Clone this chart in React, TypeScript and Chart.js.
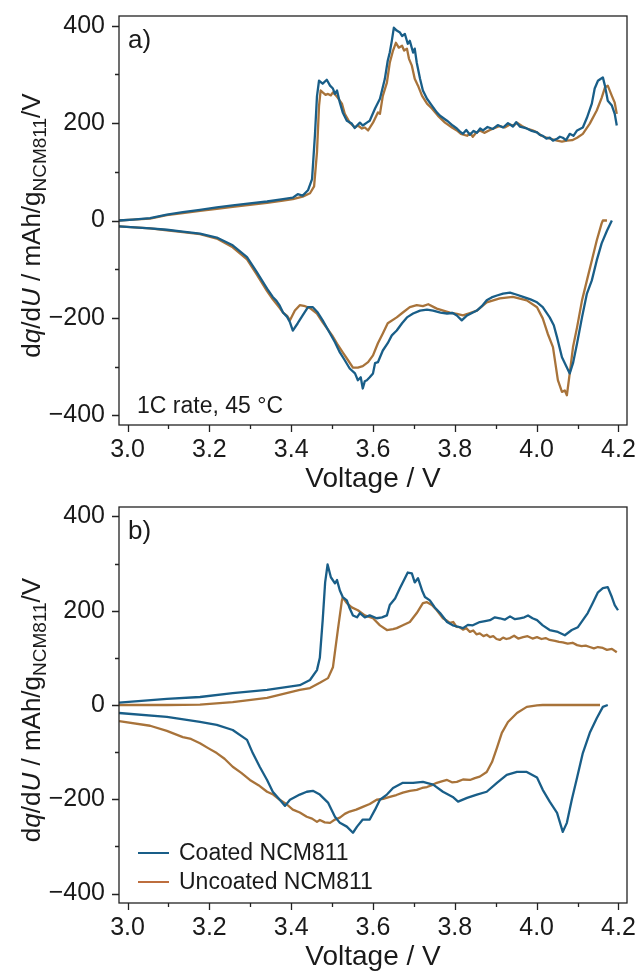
import React, { useEffect, useRef } from "react";
import { Chart, registerables } from "chart.js";
Chart.register(...registerables);

// ---- data: [voltage (V), dq/dU (mAh/g/V)] ----
const aCoatedCharge = [[2.979,0],[3.013,2],[3.055,5],[3.096,12],[3.135,17],[3.177,22],[3.218,27],[3.257,31],[3.299,35],[3.341,39],[3.380,44],[3.404,47],[3.416,54],[3.428,51],[3.441,62],[3.451,85],[3.458,175],[3.463,255],[3.468,287],[3.477,281],[3.487,289],[3.495,277],[3.502,271],[3.507,260],[3.512,267],[3.519,242],[3.526,222],[3.536,205],[3.548,199],[3.555,190],[3.561,195],[3.568,201],[3.575,195],[3.585,201],[3.592,205],[3.605,230],[3.617,250],[3.629,291],[3.636,328],[3.641,345],[3.646,369],[3.651,396],[3.658,390],[3.666,386],[3.671,379],[3.678,383],[3.685,363],[3.690,369],[3.698,345],[3.702,353],[3.707,324],[3.715,291],[3.722,267],[3.732,250],[3.744,236],[3.756,222],[3.764,215],[3.781,205],[3.795,195],[3.805,189],[3.812,183],[3.820,178],[3.828,186],[3.837,176],[3.846,184],[3.854,180],[3.862,189],[3.869,185],[3.880,192],[3.893,188],[3.905,196],[3.918,191],[3.930,200],[3.942,193],[3.950,202],[3.959,193],[3.976,189],[3.988,184],[4.001,181],[4.008,176],[4.015,174],[4.024,168],[4.032,170],[4.040,164],[4.050,168],[4.057,172],[4.064,170],[4.072,165],[4.081,178],[4.090,174],[4.099,185],[4.113,191],[4.123,211],[4.135,240],[4.142,271],[4.150,287],[4.157,291],[4.162,294],[4.167,277],[4.174,246],[4.184,236],[4.191,219],[4.196,195]];
const aUncoatedCharge = [[2.979,0],[3.013,2],[3.055,4],[3.096,11],[3.135,15],[3.177,20],[3.218,24],[3.257,28],[3.299,32],[3.341,36],[3.380,41],[3.404,44],[3.428,49],[3.446,56],[3.456,70],[3.463,140],[3.468,235],[3.472,267],[3.477,263],[3.484,258],[3.490,260],[3.497,257],[3.502,263],[3.508,258],[3.514,252],[3.524,240],[3.531,219],[3.543,201],[3.556,191],[3.563,195],[3.573,189],[3.580,191],[3.588,185],[3.600,201],[3.612,222],[3.617,219],[3.624,256],[3.634,283],[3.641,324],[3.649,349],[3.656,365],[3.663,355],[3.671,359],[3.676,349],[3.683,353],[3.688,332],[3.695,318],[3.702,291],[3.710,277],[3.720,256],[3.732,240],[3.744,230],[3.759,215],[3.776,201],[3.793,191],[3.805,185],[3.815,178],[3.830,174],[3.838,179],[3.844,172],[3.852,180],[3.861,185],[3.872,180],[3.886,186],[3.898,190],[3.910,194],[3.922,191],[3.935,197],[3.944,195],[3.952,201],[3.964,194],[3.976,189],[3.990,185],[4.001,181],[4.012,174],[4.025,170],[4.037,167],[4.050,164],[4.062,162],[4.074,164],[4.087,165],[4.099,170],[4.113,178],[4.130,199],[4.147,226],[4.159,252],[4.167,273],[4.174,277],[4.184,256],[4.191,242],[4.196,219]];
const aCoatedDischarge = [[2.979,-12],[3.055,-16],[3.096,-19],[3.135,-23],[3.177,-27],[3.218,-35],[3.257,-51],[3.292,-75],[3.316,-106],[3.341,-140],[3.355,-157],[3.364,-165],[3.372,-175],[3.380,-189],[3.390,-198],[3.397,-209],[3.404,-226],[3.416,-211],[3.428,-195],[3.441,-178],[3.453,-178],[3.465,-189],[3.477,-205],[3.495,-232],[3.507,-250],[3.519,-271],[3.531,-287],[3.543,-304],[3.556,-314],[3.563,-328],[3.570,-322],[3.575,-345],[3.580,-330],[3.585,-328],[3.592,-322],[3.600,-314],[3.605,-293],[3.612,-291],[3.624,-267],[3.636,-252],[3.646,-236],[3.658,-226],[3.671,-211],[3.683,-199],[3.698,-191],[3.715,-185],[3.732,-183],[3.747,-185],[3.765,-189],[3.781,-191],[3.795,-190],[3.805,-195],[3.817,-205],[3.830,-195],[3.854,-185],[3.866,-176],[3.878,-164],[3.890,-158],[3.903,-154],[3.918,-150],[3.935,-148],[3.950,-152],[3.967,-157],[3.985,-162],[4.001,-168],[4.015,-178],[4.032,-199],[4.042,-215],[4.050,-240],[4.062,-281],[4.074,-302],[4.081,-314],[4.089,-293],[4.099,-252],[4.111,-199],[4.123,-150],[4.135,-123],[4.147,-82],[4.159,-47],[4.172,-21],[4.184,0]];
const aUncoatedDischarge = [[2.979,-12],[3.055,-16],[3.096,-20],[3.135,-24],[3.177,-28],[3.218,-37],[3.257,-55],[3.292,-80],[3.316,-111],[3.341,-145],[3.355,-162],[3.372,-180],[3.380,-189],[3.390,-196],[3.397,-205],[3.409,-185],[3.421,-174],[3.434,-176],[3.446,-180],[3.463,-191],[3.477,-209],[3.500,-236],[3.512,-253],[3.526,-271],[3.539,-287],[3.551,-302],[3.563,-302],[3.575,-299],[3.588,-291],[3.600,-277],[3.612,-252],[3.624,-232],[3.636,-211],[3.658,-199],[3.673,-189],[3.690,-178],[3.707,-174],[3.722,-176],[3.735,-172],[3.756,-181],[3.788,-189],[3.805,-192],[3.820,-195],[3.837,-190],[3.854,-185],[3.878,-168],[3.910,-160],[3.942,-157],[3.976,-164],[4.001,-178],[4.015,-201],[4.027,-232],[4.040,-260],[4.052,-328],[4.062,-352],[4.069,-349],[4.074,-359],[4.081,-314],[4.089,-260],[4.099,-219],[4.111,-164],[4.123,-123],[4.135,-82],[4.147,-41],[4.159,-6],[4.162,0],[4.172,0]];

const bCoatedCharge = [[2.979,5],[3.096,13],[3.177,17],[3.257,25],[3.341,32],[3.421,42],[3.446,53],[3.463,74],[3.470,100],[3.477,180],[3.483,260],[3.489,298],[3.497,271],[3.507,258],[3.512,265],[3.519,243],[3.526,229],[3.536,222],[3.543,205],[3.551,190],[3.561,186],[3.568,195],[3.580,186],[3.592,190],[3.609,184],[3.622,186],[3.634,190],[3.641,212],[3.654,226],[3.666,248],[3.678,269],[3.685,281],[3.695,279],[3.702,260],[3.710,269],[3.720,243],[3.727,229],[3.739,222],[3.751,207],[3.764,195],[3.781,176],[3.795,169],[3.808,166],[3.820,163],[3.832,170],[3.844,169],[3.861,176],[3.874,178],[3.886,180],[3.898,186],[3.910,184],[3.922,181],[3.935,188],[3.947,182],[3.959,184],[3.970,186],[3.979,190],[3.990,184],[4.001,180],[4.015,169],[4.032,159],[4.052,155],[4.069,148],[4.086,159],[4.101,165],[4.113,180],[4.125,195],[4.137,216],[4.150,239],[4.162,248],[4.174,250],[4.184,229],[4.191,212],[4.199,201]];
const bUncoatedCharge = [[2.979,0],[3.096,0],[3.177,1],[3.257,6],[3.341,15],[3.421,32],[3.446,36],[3.470,47],[3.490,57],[3.502,80],[3.514,159],[3.524,222],[3.526,228],[3.536,216],[3.548,207],[3.563,201],[3.580,190],[3.600,184],[3.617,169],[3.634,159],[3.649,161],[3.658,163],[3.673,169],[3.690,176],[3.707,195],[3.722,216],[3.732,218],[3.744,212],[3.756,201],[3.764,192],[3.771,184],[3.779,180],[3.788,174],[3.796,176],[3.804,166],[3.812,165],[3.820,160],[3.828,163],[3.837,155],[3.845,158],[3.853,150],[3.861,152],[3.870,146],[3.878,149],[3.886,144],[3.894,146],[3.902,140],[3.910,138],[3.918,143],[3.926,140],[3.935,142],[3.945,147],[3.955,141],[3.967,144],[3.978,146],[3.990,141],[4.001,144],[4.012,140],[4.022,142],[4.032,138],[4.045,136],[4.055,134],[4.064,133],[4.076,130],[4.088,132],[4.099,127],[4.110,125],[4.120,126],[4.130,123],[4.140,120],[4.150,123],[4.162,121],[4.172,117],[4.184,119],[4.196,112]];
const bCoatedDischarge = [[2.979,-17],[3.096,-25],[3.177,-36],[3.218,-42],[3.257,-53],[3.292,-74],[3.306,-102],[3.323,-131],[3.341,-159],[3.355,-184],[3.372,-201],[3.385,-214],[3.397,-201],[3.421,-190],[3.438,-184],[3.453,-182],[3.470,-190],[3.490,-207],[3.495,-216],[3.507,-237],[3.519,-250],[3.536,-258],[3.551,-271],[3.561,-258],[3.575,-243],[3.592,-243],[3.605,-222],[3.617,-201],[3.634,-190],[3.649,-176],[3.673,-165],[3.698,-165],[3.722,-163],[3.747,-169],[3.771,-184],[3.795,-195],[3.808,-205],[3.830,-197],[3.854,-190],[3.878,-184],[3.903,-165],[3.927,-148],[3.952,-142],[3.976,-142],[4.001,-154],[4.015,-180],[4.032,-205],[4.050,-229],[4.064,-269],[4.074,-250],[4.086,-201],[4.099,-154],[4.113,-102],[4.130,-59],[4.147,-28],[4.162,-4],[4.174,0]];
const bUncoatedDischarge = [[2.979,-34],[3.055,-44],[3.096,-55],[3.135,-68],[3.155,-72],[3.177,-81],[3.198,-92],[3.218,-102],[3.237,-114],[3.257,-131],[3.278,-144],[3.299,-159],[3.320,-170],[3.341,-184],[3.356,-190],[3.372,-201],[3.388,-210],[3.404,-222],[3.421,-228],[3.438,-237],[3.451,-241],[3.463,-248],[3.470,-244],[3.482,-249],[3.495,-250],[3.507,-243],[3.519,-239],[3.531,-231],[3.543,-226],[3.559,-222],[3.575,-216],[3.592,-210],[3.609,-201],[3.625,-199],[3.641,-195],[3.657,-191],[3.673,-186],[3.690,-182],[3.707,-180],[3.720,-176],[3.732,-174],[3.744,-170],[3.756,-165],[3.768,-162],[3.781,-159],[3.793,-164],[3.805,-163],[3.820,-158],[3.837,-159],[3.849,-155],[3.861,-152],[3.878,-142],[3.891,-121],[3.903,-91],[3.915,-59],[3.930,-36],[3.952,-17],[3.976,-4],[4.001,-1],[4.015,0],[4.155,0]];

const xTicks = [3.0, 3.2, 3.4, 3.6, 3.8, 4.0, 4.2];
const xMinorTicks = [3.1, 3.3, 3.5, 3.7, 3.9, 4.1];
const yTicks = [-400, -200, 0, 200, 400];
const yMinorTicks = [-300, -100, 100, 300];
const seriesNames = ["Coated NCM811", "Uncoated NCM811"];

const BLUE = "#195e88";
const BROWN = "#a8733a";
const LEGEND_BROWN = "#bd6e3e";
const FONT = '"Liberation Sans", Arial, sans-serif';
const INK = "#1a1a1a";

function toXY(arr: number[][]) {
  return arr.map((p) => ({ x: p[0], y: p[1] }));
}

function drawYTitle(ctx: CanvasRenderingContext2D, cx: number, cy: number) {
  const main = `26px ${FONT}`;
  const ital = `italic 26px ${FONT}`;
  const sub = `19px ${FONT}`;
  const parts = [
    { t: "d", f: main, dy: 0 },
    { t: "q", f: ital, dy: 0 },
    { t: "/d", f: main, dy: 0 },
    { t: "U", f: ital, dy: 0 },
    { t: " / mAh/g", f: main, dy: 0 },
    { t: "NCM811", f: sub, dy: 6 },
    { t: "/V", f: main, dy: 0 },
  ];
  ctx.save();
  ctx.translate(cx, cy);
  ctx.rotate(-Math.PI / 2);
  ctx.fillStyle = INK;
  ctx.textBaseline = "alphabetic";
  ctx.textAlign = "left";
  let total = 0;
  for (const p of parts) {
    ctx.font = p.f;
    total += ctx.measureText(p.t).width;
  }
  let x = -total / 2;
  for (const p of parts) {
    ctx.font = p.f;
    ctx.fillText(p.t, x, p.dy);
    x += ctx.measureText(p.t).width;
  }
  ctx.restore();
}

const decorPlugin = {
  id: "decor",
  afterDraw(chart: any) {
    const { ctx, chartArea: a, scales } = chart;
    const o = chart.options.plugins.decor || {};
    const xs = scales.x;
    const ys = scales.y;
    ctx.save();
    ctx.strokeStyle = "#222";
    ctx.lineWidth = 1.3;
    ctx.strokeRect(a.left, a.top, a.right - a.left, a.bottom - a.top);
    ctx.beginPath();
    for (const v of xTicks) {
      const px = Math.round(xs.getPixelForValue(v)) + 0.5;
      ctx.moveTo(px, a.bottom);
      ctx.lineTo(px, a.bottom + 7);
    }
    for (const v of xMinorTicks) {
      const px = Math.round(xs.getPixelForValue(v)) + 0.5;
      ctx.moveTo(px, a.bottom);
      ctx.lineTo(px, a.bottom + 4);
    }
    for (const v of yTicks) {
      const py = Math.round(ys.getPixelForValue(v)) + 0.5;
      ctx.moveTo(a.left, py);
      ctx.lineTo(a.left - 7, py);
    }
    for (const v of yMinorTicks) {
      const py = Math.round(ys.getPixelForValue(v)) + 0.5;
      ctx.moveTo(a.left, py);
      ctx.lineTo(a.left - 4, py);
    }
    ctx.stroke();

    // x title
    ctx.fillStyle = INK;
    ctx.font = `28px ${FONT}`;
    ctx.textAlign = "center";
    ctx.textBaseline = "middle";
    ctx.fillText("Voltage / V", (a.left + a.right) / 2, a.bottom + 54);

    // panel label
    ctx.font = `26px ${FONT}`;
    ctx.textAlign = "left";
    ctx.fillText(o.label, a.left + 9, a.top + 25);

    if (o.note) {
      ctx.font = `23px ${FONT}`;
      ctx.textBaseline = "alphabetic";
      ctx.fillText(o.note, a.left + 18, a.bottom - 12);
    }

    if (o.legend) {
      const rows = [
        { name: seriesNames[0], color: BLUE, y: 366 },
        { name: seriesNames[1], color: LEGEND_BROWN, y: 395 },
      ];
      ctx.font = `23px ${FONT}`;
      ctx.textBaseline = "middle";
      for (const r of rows) {
        ctx.strokeStyle = r.color;
        ctx.lineWidth = 2;
        ctx.beginPath();
        ctx.moveTo(138, r.y);
        ctx.lineTo(169, r.y);
        ctx.stroke();
        ctx.fillStyle = INK;
        ctx.fillText(r.name, 179, r.y + 1);
      }
    }

    drawYTitle(ctx, 40, (a.top + a.bottom) / 2 + 5);
    ctx.restore();
  },
};

function makeConfig(
  coChg: number[][],
  unChg: number[][],
  coDis: number[][],
  unDis: number[][],
  padTop: number,
  xHeight: number,
  decor: any
): any {
  const ds = (data: number[][], color: string, w: number) => ({
    data: toXY(data),
    borderColor: color,
    backgroundColor: color,
    borderWidth: w,
    pointRadius: 0,
    tension: 0,
    fill: false,
    borderJoinStyle: "round",
  });
  return {
    type: "line",
    data: {
      datasets: [
        ds(coChg, BLUE, 2.3),
        ds(coDis, BLUE, 2.3),
        ds(unChg, BROWN, 2.3),
        ds(unDis, BROWN, 2.3),
      ],
    },
    options: {
      animation: false,
      responsive: false,
      layout: { padding: { left: 0, right: 15, top: padTop, bottom: 0 } },
      plugins: { legend: { display: false }, tooltip: { enabled: false }, decor },
      scales: {
        x: {
          type: "linear",
          min: 2.979,
          max: 4.221,
          grid: { display: false },
          border: { display: false },
          afterFit: (s: any) => {
            s.height = xHeight;
            s.paddingLeft = 0;
            s.paddingRight = 0;
          },
          afterBuildTicks: (s: any) => { s.ticks = xTicks.map((v) => ({ value: v })); },
          ticks: {
            padding: 2,
            color: INK,
            font: { family: FONT, size: 25 },
            callback: (v: any) => Number(v).toFixed(1),
            maxRotation: 0,
            autoSkip: false,
          },
        },
        y: {
          type: "linear",
          min: -420,
          max: 420,
          grid: { display: false },
          border: { display: false },
          afterFit: (s: any) => {
            s.width = 119;
            s.paddingTop = 0;
            s.paddingBottom = 0;
          },
          afterBuildTicks: (s: any) => { s.ticks = yTicks.map((v) => ({ value: v })); },
          ticks: {
            padding: 6,
            color: INK,
            font: { family: FONT, size: 25 },
            callback: (v: any) => (Number(v) < 0 ? "\u2212" + Math.abs(Number(v)) : String(v)),
            autoSkip: false,
          },
        },
      },
    },
    plugins: [decorPlugin],
  };
}

function Panel(props: { cfg: () => any; top: number; height: number }) {
  const ref = useRef<HTMLCanvasElement>(null);
  useEffect(() => {
    if (!ref.current) return;
    const chart = new Chart(ref.current, props.cfg());
    return () => chart.destroy();
  }, []);
  return (
    <canvas
      ref={ref}
      width={642}
      height={props.height}
      style={{ position: "absolute", left: 0, top: props.top, width: 642, height: props.height }}
    />
  );
}

export default function App() {
  return (
    <div style={{ position: "absolute", left: 0, top: 0, width: 642, height: 974, background: "#fff" }}>
      <Panel
        top={0}
        height={500}
        cfg={() =>
          makeConfig(aCoatedCharge, aUncoatedCharge, aCoatedDischarge, aUncoatedDischarge, 16, 75, {
            label: "a)",
            note: "1C rate, 45 \u00b0C",
            legend: false,
          })
        }
      />
      <Panel
        top={487}
        height={487}
        cfg={() =>
          makeConfig(bCoatedCharge, bUncoatedCharge, bCoatedDischarge, bUncoatedDischarge, 20, 71, {
            label: "b)",
            note: "",
            legend: true,
          })
        }
      />
    </div>
  );
}
